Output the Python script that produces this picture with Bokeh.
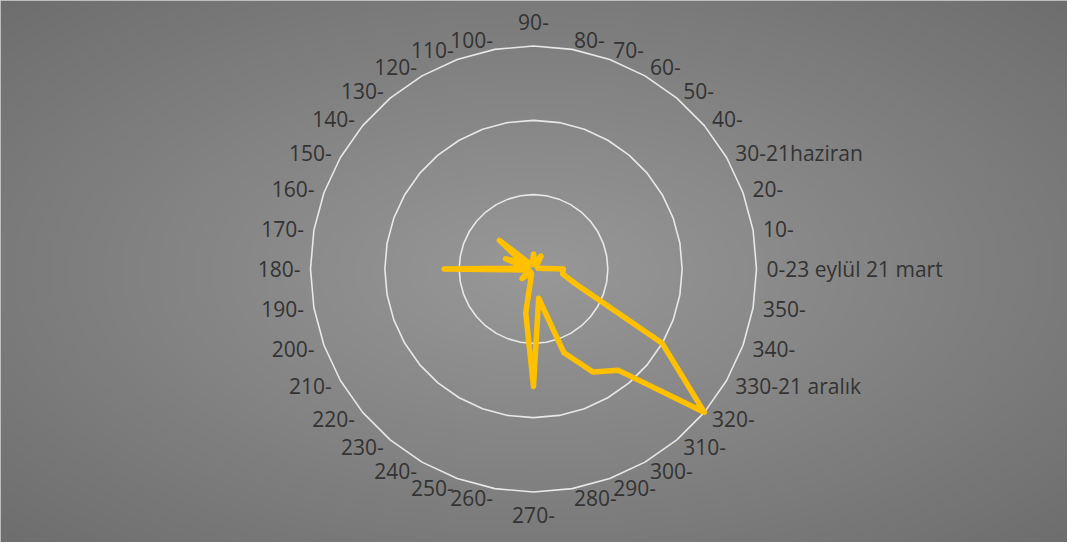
import numpy as np
from bokeh.plotting import figure
from bokeh.models import Range1d
from bokeh.core.properties import value
from bokeh.embed import file_html
from bokeh.resources import INLINE

# ---- data ----
categories = list(range(0, 360, 10))
labels = ["0-23 eylül 21 mart", "10-", "20-", "30-21haziran", "40-", "50-", "60-", "70-", "80-",
          "90-", "100-", "110-", "120-", "130-", "140-", "150-", "160-", "170-", "180-",
          "190-", "200-", "210-", "220-", "230-", "240-", "250-", "260-", "270-", "280-",
          "290-", "300-", "310-", "320-", "330-21 aralık", "340-", "350-"]
values = [2.0, 0.3, 0.3, 0.3, 0.3, 0.4, 1.0, 0.4, 0.5,
          1.0, 0.4, 0.3, 0.4, 0.6, 3.0, 0.8, 2.0, 0.4, 6.0,
          0.4, 0.3, 0.5, 1.0, 0.4, 0.3, 0.4, 3.0, 7.9, 2.0,
          6.0, 8.0, 8.9, 15.0, 10.0, 3.1, 2.0]
grid_levels = [5, 10, 15]

# ---- layout ----
W, H = 1067, 542
PX = 15 / 223.0            # value units per pixel
cx_px, cy_px = 533, 268.5  # chart centre inside the figure (pixels)
x0, x1 = -cx_px * PX, (W - cx_px) * PX
y0, y1 = -(H - cy_px) * PX, cy_px * PX

p = figure(width=W, height=H, x_range=Range1d(x0, x1), y_range=Range1d(y0, y1),
           output_backend="svg", toolbar_location=None, min_border=0)
p.axis.visible = False
p.grid.visible = False
p.outline_line_color = "#d6d6d6"
p.outline_line_width = 2
p.background_fill_color = "#8a8a8a"
p.border_fill_color = "white"

# background radial gradient
ny, nx = 271, 534
u = np.linspace(-1, 1, nx)[None, :]
v = np.linspace(-1, 1, ny)[:, None]
t = np.clip(np.sqrt(u ** 2 + v ** 2) / np.sqrt(2), 0, 1)
c = (152 - (152 - 110) * t).astype(np.uint8)
img = np.empty((ny, nx), dtype=np.uint32)
view = img.view(dtype=np.uint8).reshape((ny, nx, 4))
view[:, :, 0] = c
view[:, :, 1] = c
view[:, :, 2] = c
view[:, :, 3] = 255
p.image_rgba(image=[img], x=x0, y=y0, dw=x1 - x0, dh=y1 - y0)

theta = np.deg2rad(np.array(categories, dtype=float))

# grid polygons
for lv in grid_levels:
    gx = list(lv * np.cos(theta)) + [lv * np.cos(theta[0])]
    gy = list(lv * np.sin(theta)) + [lv * np.sin(theta[0])]
    p.line(gx, gy, line_color="#e8e8e8", line_width=1.6)

# data line (closed)
vals = np.array(values)
dx = list(vals * np.cos(theta)) + [vals[0] * np.cos(theta[0])]
dy = list(vals * np.sin(theta)) + [vals[0] * np.sin(theta[0])]
p.line(dx, dy, line_color="#FFC000", line_width=5.5, line_join="round", line_cap="round")

# category labels
r_lab = grid_levels[-1] + 10 * PX
groups = {}
for ang, lab in zip(categories, labels):
    a = np.deg2rad(ang)
    if ang == 90:
        key = ("center", "alphabetic")
        x, y = 0.0, grid_levels[-1] + 24.5 * PX
    elif ang == 270:
        key = ("center", "alphabetic")
        x, y = 0.0, -(grid_levels[-1] + 22.5 * PX)
    elif np.cos(a) > 0:
        key = ("left", "middle")
        x, y = r_lab * np.cos(a), r_lab * np.sin(a)
    else:
        key = ("right", "middle")
        x, y = r_lab * np.cos(a), r_lab * np.sin(a)
    g = groups.setdefault(key, {"x": [], "y": [], "t": []})
    g["x"].append(x)
    g["y"].append(y)
    g["t"].append(lab)

for (al, bl), g in groups.items():
    p.text(x=g["x"], y=g["y"], text=g["t"], text_align=al, text_baseline=bl,
           text_font=value("Open Sans"), text_font_size="21px", text_color="#333333")

open("out.html", "w").write(file_html(p, INLINE))
